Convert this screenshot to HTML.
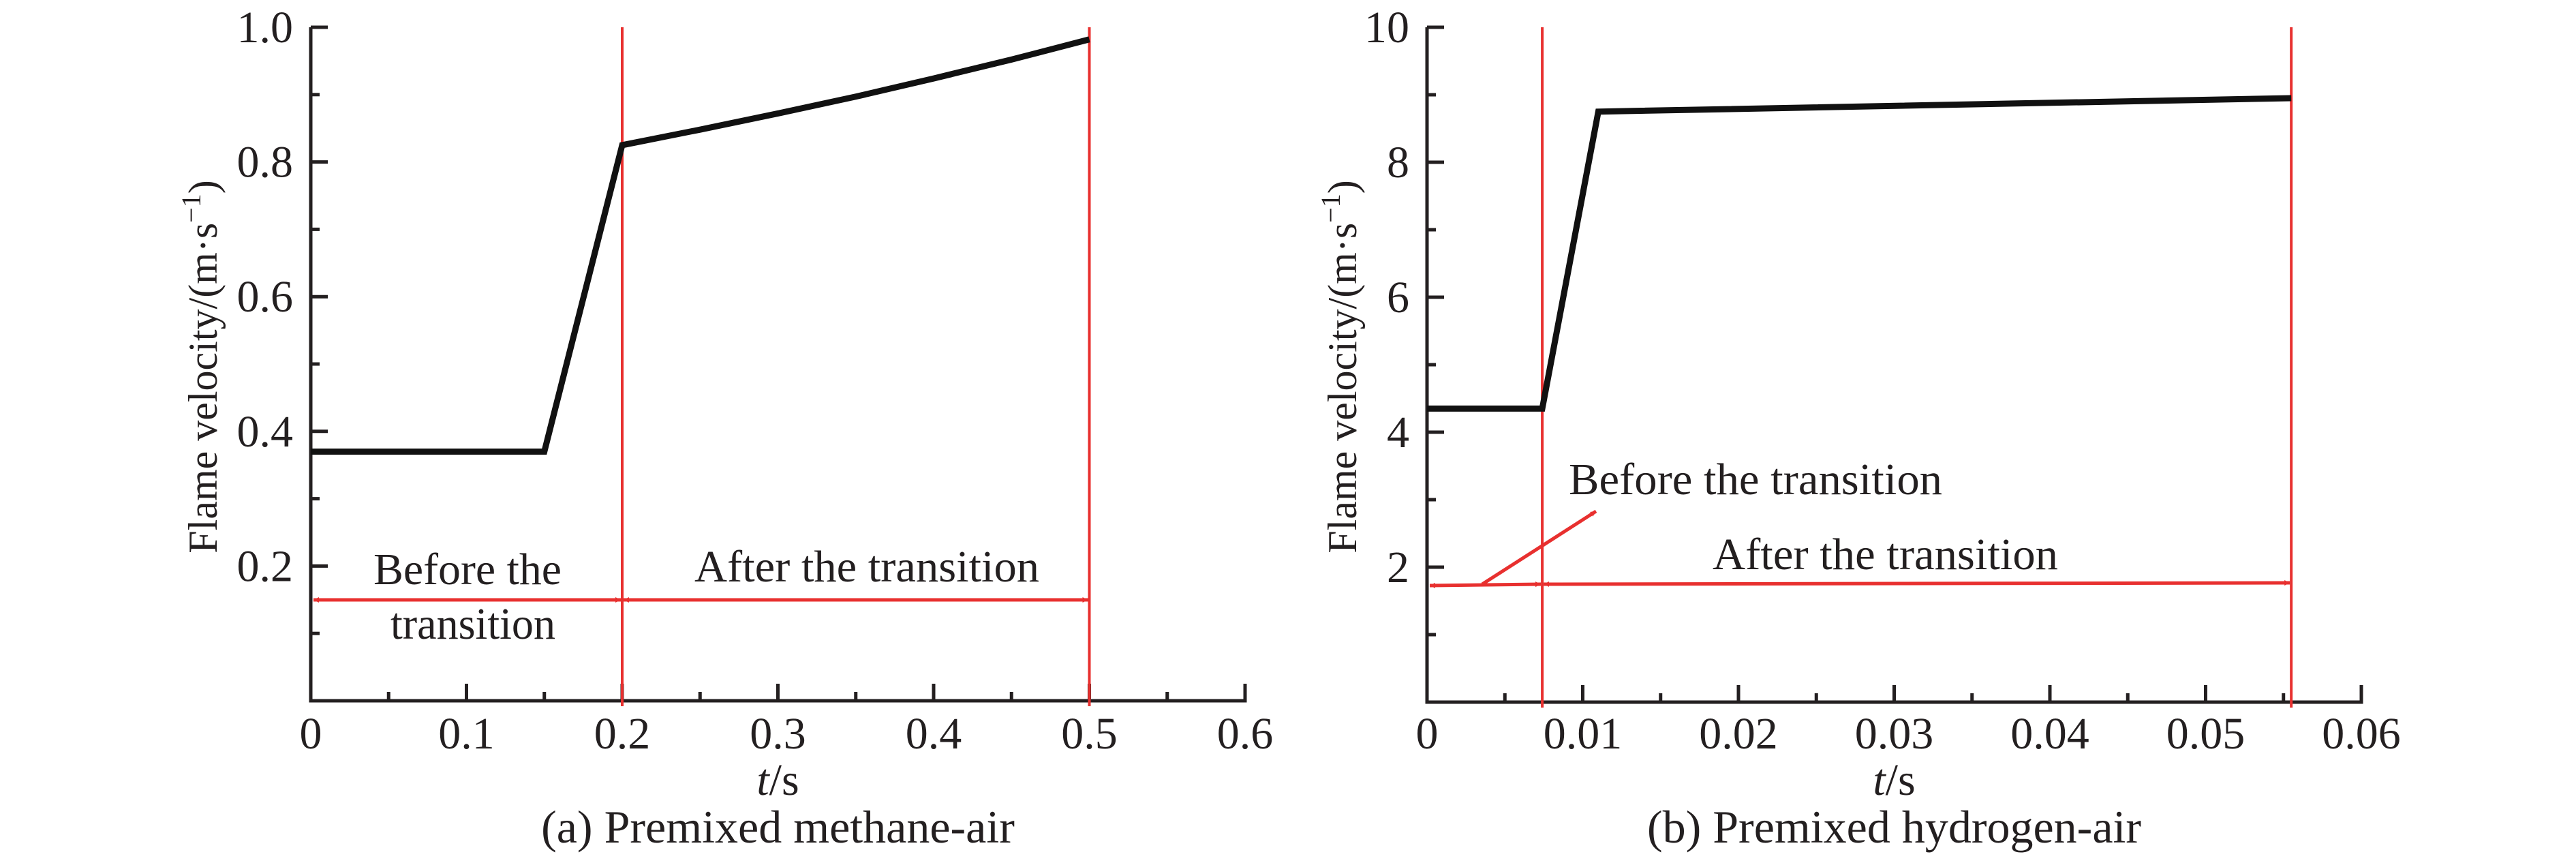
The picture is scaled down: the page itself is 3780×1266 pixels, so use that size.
<!DOCTYPE html>
<html><head><meta charset="utf-8"><style>
html,body{margin:0;padding:0;background:#fff}
svg{display:block}
text{font-family:"Liberation Serif",serif;fill:#231f20}
</style></head><body>
<svg id="fig" width="3780" height="1266" viewBox="0 0 3780 1266" xmlns="http://www.w3.org/2000/svg">
<defs>
<marker id="ah" viewBox="0 0 10 10" refX="10" refY="5" markerWidth="8" markerHeight="8" markerUnits="userSpaceOnUse" orient="auto-start-reverse">
<path d="M0,0 L10,5 L0,10 z" fill="#e8302f"/></marker>
</defs>
</svg>
<script>
// Panel A data (methane-air)
const aTimes = [0, 0.15, 0.2, 0.25, 0.3, 0.35, 0.4, 0.45, 0.5];
const aVel = [0.37, 0.37, 0.825, 0.848, 0.872, 0.897, 0.924, 0.952, 0.982];
const aXTicks = ["0","0.1","0.2","0.3","0.4","0.5","0.6"];
const aYTicks = ["0.2","0.4","0.6","0.8","1.0"];
const aTransitions = [0.2, 0.5];
// Panel B data (hydrogen-air)
const bTimes = [0, 0.0074, 0.011, 0.0555];
const bVel = [4.35, 4.35, 8.75, 8.95];
const bXTicks = ["0","0.01","0.02","0.03","0.04","0.05","0.06"];
const bYTicks = ["2","4","6","8","10"];
const bTransitions = [0.0074, 0.0555];

const NS = "http://www.w3.org/2000/svg";
const svg = document.getElementById("fig");
function mk(tag, attrs, parent, txt){
  const e = document.createElementNS(NS, tag);
  for (const k in attrs) e.setAttribute(k, attrs[k]);
  if (txt !== undefined) e.textContent = txt;
  (parent||svg).appendChild(e);
  return e;
}
function panel(o){
  const g = mk("g", {});
  
  
  const X = v => o.x0 + (v - 0) / o.xmax * (o.x1 - o.x0);
  const Y = v => o.y0 - v / o.ymax * (o.y0 - o.y1);
  // axes
  const ax = mk("path", {d:`M${o.x0},${o.y1} V${o.y0} H${o.x1} V${o.y0-25}`, fill:"none", stroke:"#231f20", "stroke-width":5}, g);
  
  
  mk("line",{x1:o.x0,y1:o.y1,x2:o.x0+25,y2:o.y1,stroke:"#231f20","stroke-width":5},g);
  // x ticks
  const nx = o.xTicks.length - 1;
  for (let i = 0; i <= nx*2; i++){
    const v = o.xmax * i / (nx*2);
    const len = i%2===0 ? 25 : 13;
    if (i>0 && i<nx*2) mk("line",{x1:X(v),y1:o.y0,x2:X(v),y2:o.y0-len,stroke:"#231f20","stroke-width":5},g);
  }
  o.xTicks.forEach((t,i)=>{
    const v = o.xmax * i / nx;
    const tx = mk("text",{x:X(v),y:1098,"font-size":66,"text-anchor":"middle"},g,t);
    
    
  });
  // y ticks
  const ny = o.yTicks.length;
  for (let i = 1; i < ny*2; i++){
    const v = o.ymax * i / (ny*2);
    const len = i%2===0 ? 25 : 13;
    mk("line",{x1:o.x0,y1:Y(v),x2:o.x0+len,y2:Y(v),stroke:"#231f20","stroke-width":5},g);
  }
  o.yTicks.forEach((t,i)=>{
    const v = o.ymax * (i+1) / ny;
    const ty = mk("text",{x:o.x0-26,y:Y(v)+22,"font-size":66,"text-anchor":"end"},g,t);
    
    
  });
  // transition lines
  o.trans.forEach(t=>{
    const l = mk("line",{x1:X(t),y1:o.y1,x2:X(t),y2:o.y0+8,stroke:"#e8302f","stroke-width":4},g);
    
    
  });
  // series
  const pts = o.times.map((t,i)=>X(t)+","+Y(o.vel[i])).join(" ");
  const s = mk("polyline",{points:pts,fill:"none",stroke:"#111","stroke-width":9,"stroke-linejoin":"miter"},g);
  
  
  // axis titles
  const yt = mk("text",{x:0,y:0,"font-size":60,"text-anchor":"middle",transform:`translate(${o.ytx},538) rotate(-90)`},g);
  
  
  yt.appendChild(document.createTextNode("Flame velocity/(m·s"));
  mk("tspan",{"font-size":40,dy:-24},yt,"−1");
  mk("tspan",{dy:24},yt,")");
  const cx = (o.x0+o.x1)/2;
  const xt = mk("text",{x:cx,y:1166,"font-size":66,"text-anchor":"middle"},g);
  
  
  mk("tspan",{"font-style":"italic"},xt,"t");
  xt.appendChild(document.createTextNode("/s"));
  const cap = mk("text",{x:cx,y:1236,"font-size":68,"text-anchor":"middle"},g,o.caption);
  
  
  return {g,X,Y};
}
function arrow(g, x1,y1,x2,y2, both, name){
  const a = mk("line",{x1,y1,x2,y2,stroke:"#e8302f","stroke-width":5,"marker-end":"url(#ah)"},g);
  if (both) a.setAttribute("marker-start","url(#ah)");
  
  
}
function label(g,x,y,txt,w,name){
  const t = mk("text",{x,y,"font-size":66,textLength:w,lengthAdjust:"spacingAndGlyphs"},g,txt);
  
  
}
// Panel A
const A = panel({name:"panel-a-methane",x0:456,x1:1827,y0:1028,y1:40,xmax:0.6,ymax:1.0,
  xTicks:aXTicks,yTicks:aYTicks,times:aTimes,vel:aVel,trans:aTransitions,ytx:318,caption:"(a) Premixed methane-air"});
arrow(A.g, A.X(0)+4, 880, A.X(0.2)-2, 880, true, "before-transition-arrow");
arrow(A.g, A.X(0.2)+2, 880, A.X(0.5)-2, 880, true, "after-transition-arrow");
label(A.g, 548, 857, "Before the", 276, "before-transition-label");
label(A.g, 573, 937, "transition", 242, "before-transition-label-2");
label(A.g, 1019, 853, "After the transition", 506, "after-transition-label");
// Panel B
const B = panel({name:"panel-b-hydrogen",x0:2094,x1:3465,y0:1030,y1:40,xmax:0.06,ymax:10,
  xTicks:bXTicks,yTicks:bYTicks,times:bTimes,vel:bVel,trans:bTransitions,ytx:1990,caption:"(b) Premixed hydrogen-air"});
arrow(B.g, B.X(0)+4, 859, B.X(0.0074)-2, 857, true, "before-transition-arrow");
arrow(B.g, B.X(0.0074)+2, 857, B.X(0.0555)-2, 855, true, "after-transition-arrow");
arrow(B.g, 2175, 857, 2342, 750, false, "label-pointer-arrow");
label(B.g, 2302, 725, "Before the transition", 548, "before-transition-label");
label(B.g, 2513, 835, "After the transition", 507, "after-transition-label");
</script>
</body></html>
